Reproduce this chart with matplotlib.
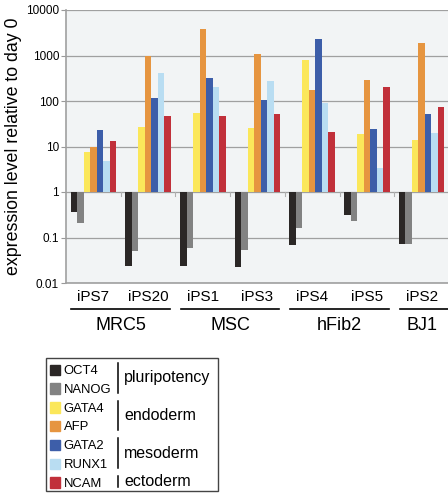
import numpy as np
import matplotlib
matplotlib.use('Agg')
import matplotlib.pyplot as plt
from matplotlib.patches import Rectangle
from matplotlib.lines import Line2D

plt.rcParams['font.family'] = ['Liberation Sans', 'DejaVu Sans']

samples = ['iPS7', 'iPS20', 'iPS1', 'iPS3', 'iPS4', 'iPS5', 'iPS2']
origins = ['MRC5', 'MSC', 'hFib2', 'BJ1']
origin_span = [(0, 1), (2, 3), (4, 5), (6, 7)]
genes = ['OCT4', 'NANOG', 'GATA4', 'AFP', 'GATA2', 'RUNX1', 'NCAM']
colors = ['#2b2726', '#828282', '#fbe75a', '#e69540', '#3d5ea9', '#b9ddf2', '#c1303a']
lineages = [('pluripotency', 0, 1), ('endoderm', 2, 3), ('mesoderm', 4, 5), ('ectoderm', 6, 6)]

# expression per gene for each sample
oct4 = [0.37, 0.024, 0.024, 0.022, 0.068, 0.31, 0.071]
nanog = [0.21, 0.051, 0.059, 0.054, 0.165, 0.23, 0.071]
gata4 = [7.7, 27, 54, 26, 800, 18.8, 13.7]
afp = [9.8, 1000, 3800, 1090, 177, 295, 1860]
gata2 = [22.7, 115, 315, 107, 2270, 23.9, 53]
runx1 = [4.8, 410, 206, 270, 89, 3.3, 20]
ncam = [13.4, 47, 48, 52, 21, 206, 75]
values = [oct4, nanog, gata4, afp, gata2, runx1, ncam]

W, H = 448, 493
fig = plt.figure(figsize=(W / 100, H / 100), dpi=100)

def fx(px):
    return px / W

def fy(py):
    return 1 - py / H

ax = fig.add_axes([fx(66), fy(283), fx(449) - fx(66), fy(10) - fy(283)])
ax.set_facecolor('#f2f4f5')

n = len(genes)
bw = 0.119
x = np.arange(len(samples))
for i, (g, vals) in enumerate(zip(genes, values)):
    v = np.array(vals)
    ax.bar(x + (i - (n - 1) / 2) * bw, v - 1, bottom=1, width=bw,
           color=colors[i], linewidth=0, zorder=3)

ax.set_yscale('log')
ax.set_ylim(0.01, 10000)
ax.set_xlim(-0.5, len(samples) - 0.5)
yt = [0.01, 0.1, 1, 10, 100, 1000, 10000]
ax.set_yticks(yt)
ax.set_yticklabels(['0.01', '0.1', '1', '10', '100', '1000', '10000'], fontsize=8.5)
ax.yaxis.set_minor_locator(matplotlib.ticker.NullLocator())
ax.tick_params(axis='y', length=3.5, width=0.8, color='#999999', pad=1.5)
ax.set_xticks([])
ax.grid(axis='y', color='#a0a0a0', linewidth=0.9, zorder=1)
for s in ['top', 'right']:
    ax.spines[s].set_visible(False)
ax.spines['left'].set_color('#a0a0a0')
ax.spines['bottom'].set_color('#a0a0a0')
ax.spines['left'].set_linewidth(1.2)
ax.spines['bottom'].set_linewidth(1.2)

# small separators below the baseline at 1
for b in np.arange(0.5, len(samples) - 0.5):
    ax.plot([b, b], [1, 0.82], color='#b0b0b0', linewidth=0.8, zorder=2)

ax.set_ylabel('expression level relative to day 0', fontsize=12.8, labelpad=3)

# sample labels and origin groups
tr = ax.get_xaxis_transform()
for xi, s in zip(x, samples):
    ax.text(xi, -0.051, s, transform=tr, ha='center', va='center', fontsize=11, clip_on=False)
for name, (a, b) in zip(origins, origin_span):
    ax.plot([a - 0.4, b + 0.4], [-0.095, -0.095], transform=tr, color='black',
            linewidth=1.2, clip_on=False)
    ax.text(a + (min(b, len(samples) - 1) - a) / 2, -0.156, name, transform=tr,
            ha='center', va='center', fontsize=13, clip_on=False)

# legend box
fig.patches.append(Rectangle((fx(45.5), fy(491)), fx(218) - fx(45.5), fy(358) - fy(491),
                             transform=fig.transFigure, fill=False,
                             edgecolor='#444444', linewidth=1))
row0, dy = 370, 18.8
for i, (g, c) in enumerate(zip(genes, colors)):
    yc = row0 + i * dy
    fig.patches.append(Rectangle((fx(49.5), fy(yc + 5)), fx(10.5), 10.5 / H,
                                 transform=fig.transFigure, color=c))
    fig.text(fx(63.5), fy(yc + 1), g, fontsize=9.4, ha='left', va='center')
for name, a, b in lineages:
    y1 = row0 + a * dy - 7
    y2 = row0 + b * dy + 4
    fig.lines.append(Line2D([fx(118), fx(118)], [fy(y1), fy(y2)],
                            transform=fig.transFigure, color='black', linewidth=1.1))
    fig.text(fx(124), fy((y1 + y2) / 2), name, fontsize=11.5, ha='left', va='center')

fig.savefig('out.png', dpi=100)
